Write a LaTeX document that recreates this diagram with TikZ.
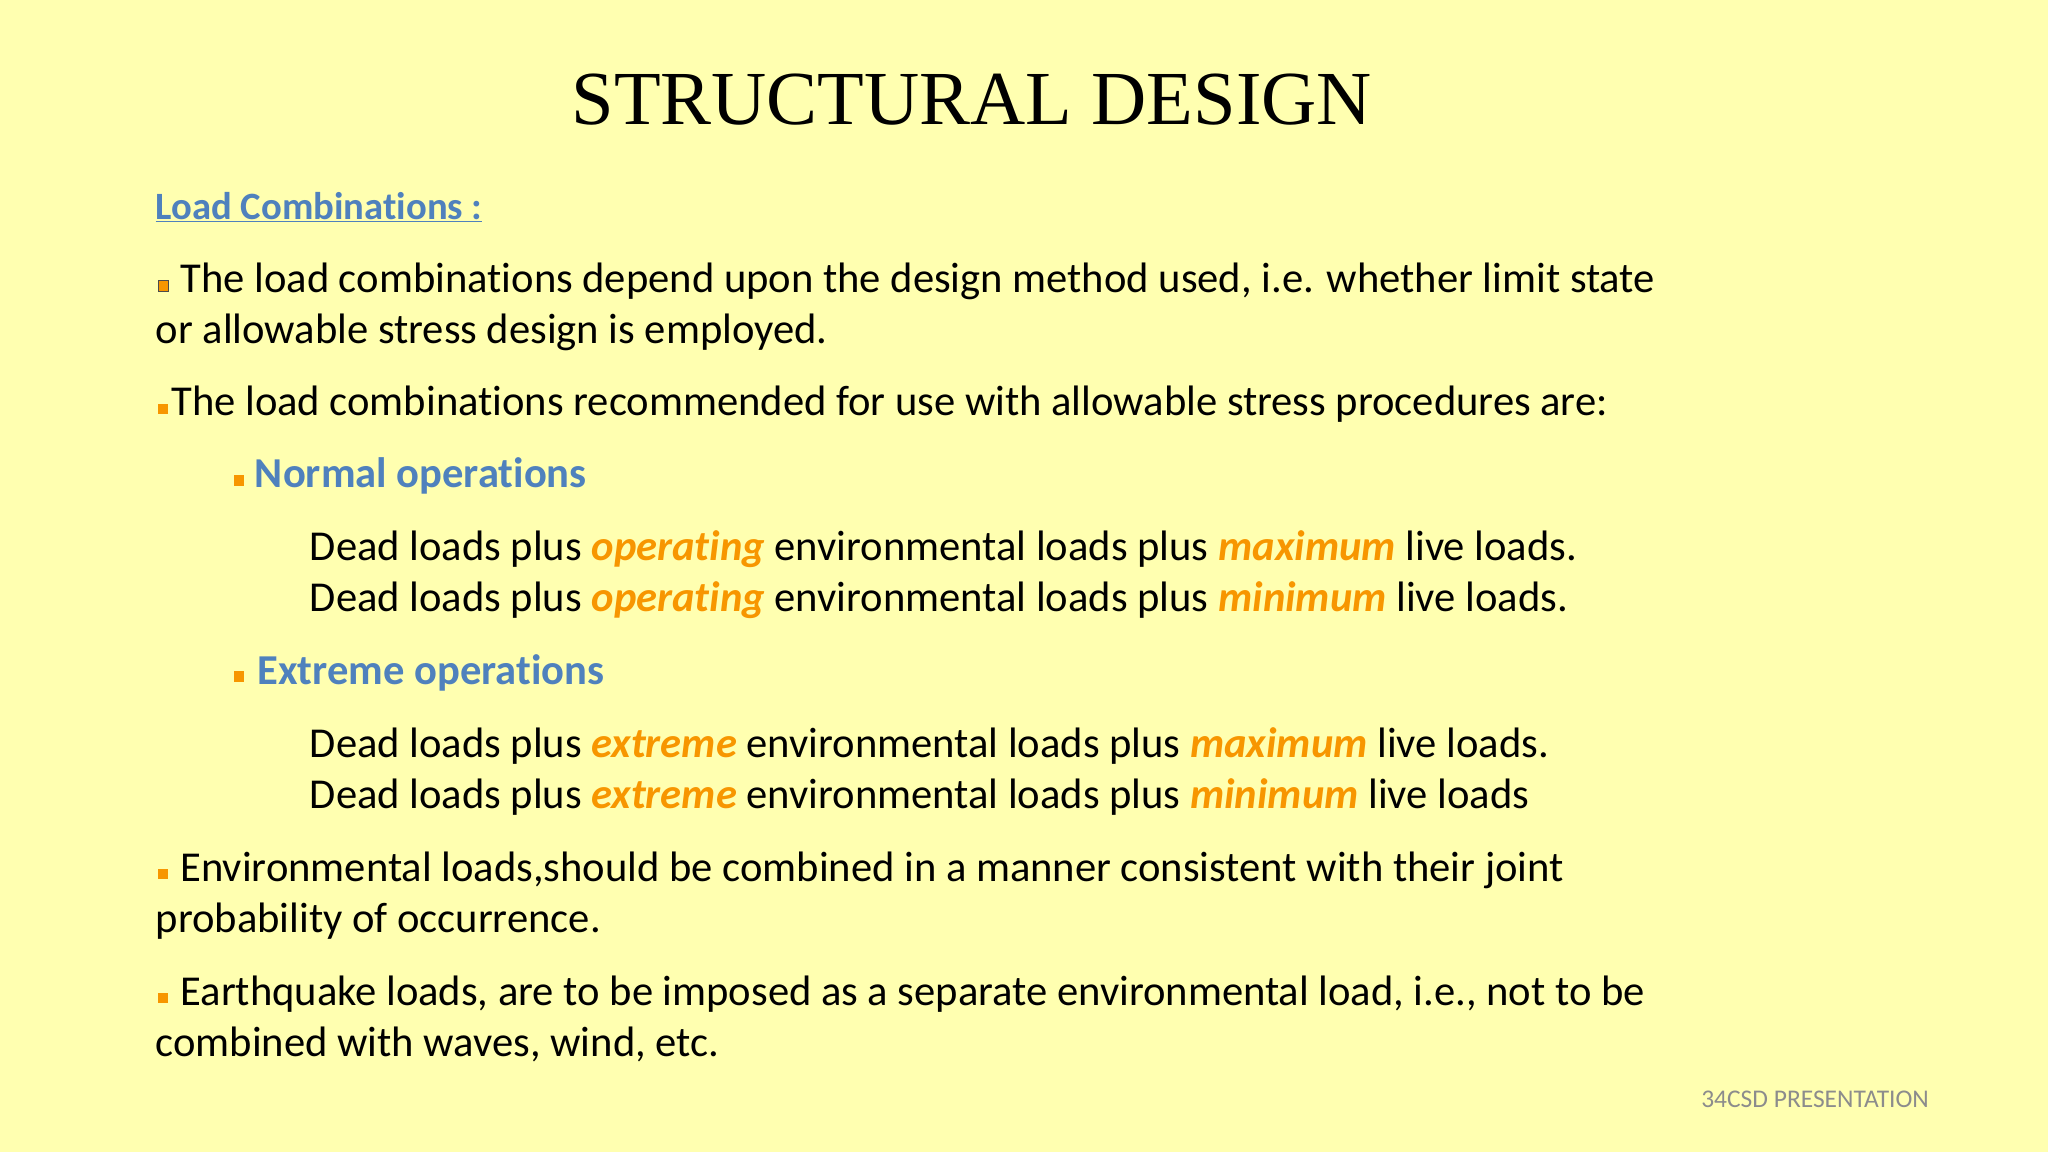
\documentclass[tikz,border=0pt]{standalone}
\usepackage{fontspec}
\setmainfont[Ligatures=NoCommon]{Carlito}
\newfontfamily\titlefont{Liberation Serif}
\definecolor{bg}{RGB}{255,255,176}
\definecolor{hblue}{RGB}{79,129,189}
\definecolor{hor}{RGB}{247,150,0}
\begin{document}
\begin{tikzpicture}[x=1pt,y=-1pt,
  txt/.style={anchor=base west,inner sep=0pt,font=\fontsize{32.6}{38}\selectfont},
  blt/.style={fill=hor,minimum size=8pt,inner sep=0pt}]
\fill[bg] (0,0) rectangle (1568,882);
\useasboundingbox (0,0) rectangle (1568,882);
\node[anchor=base,inner sep=0pt,font=\titlefont\fontsize{58.5}{66}\selectfont] (title) at (744,95) {STRUCTURAL DESIGN};
\node[txt,font=\fontsize{29.6}{34}\selectfont\bfseries,text=hblue] (lc) at (119,168) {\underline{Load Combinations :}};
\node[blt,draw=black!70,line width=0.6pt] (b1) at (125,219) {};
\node[txt] (t1) at (138,224) {The load combinations depend upon the design method used, i.e. whether limit state};
\node[txt] (t1b) at (119,263) {or allowable stress design is employed.};
\node[blt] (b2) at (125,313) {};
\node[txt] (t2) at (131,318) {The load combinations recommended for use with allowable stress procedures are:};
\node[blt] (b3) at (183,368) {};
\node[txt,font=\fontsize{32.6}{38}\selectfont\bfseries,text=hblue] (n) at (195,373) {Normal operations};
\node[txt] (n1) at (237,429) {Dead loads plus \textcolor{hor}{\bfseries\itshape operating} environmental loads plus \textcolor{hor}{\bfseries\itshape maximum} live loads.};
\node[txt] (n2) at (237,468) {Dead loads plus \textcolor{hor}{\bfseries\itshape operating} environmental loads plus \textcolor{hor}{\bfseries\itshape minimum} live loads.};
\node[blt] (b4) at (183,518) {};
\node[txt,font=\fontsize{32.6}{38}\selectfont\bfseries,text=hblue] (e) at (197,524) {Extreme operations};
\node[txt] (e1) at (237,580) {Dead loads plus \textcolor{hor}{\bfseries\itshape extreme} environmental loads plus \textcolor{hor}{\bfseries\itshape maximum} live loads.};
\node[txt] (e2) at (237,619) {Dead loads plus \textcolor{hor}{\bfseries\itshape extreme} environmental loads plus \textcolor{hor}{\bfseries\itshape minimum} live loads};
\node[blt] (b5) at (125,669) {};
\node[txt] (t3) at (138,675) {Environmental loads,should be combined in a manner consistent with their joint};
\node[txt] (t3b) at (119,714) {probability of occurrence.};
\node[blt] (b6) at (125,764) {};
\node[txt] (t4) at (138,770) {Earthquake loads, are to be imposed as a separate environmental load, i.e., not to be};
\node[txt] (t4b) at (119,809) {combined with waves, wind, etc.};
\node[txt,font=\fontsize{19.5}{22}\selectfont,text=black!45,anchor=base east] (f) at (1477,848) {34CSD PRESENTATION};
\end{tikzpicture}
\end{document}
